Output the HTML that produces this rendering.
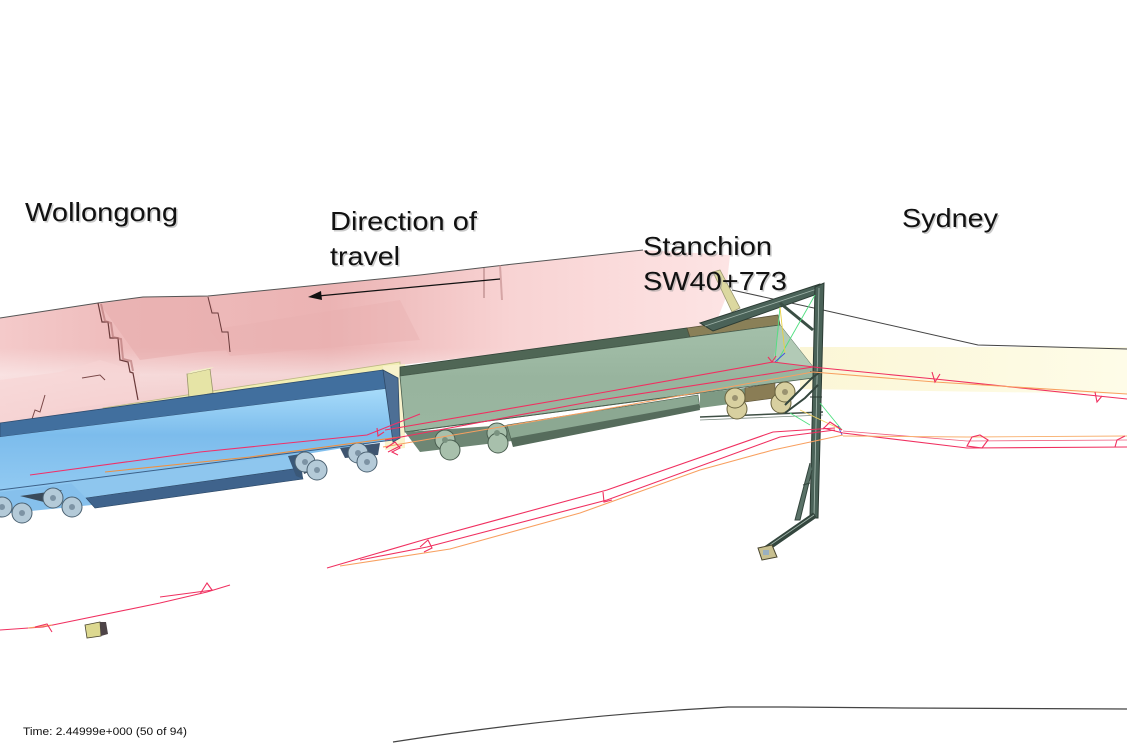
<!DOCTYPE html>
<html><head><meta charset="utf-8"><style>
html,body{margin:0;padding:0;background:#fff;}
svg{display:block;}
text{font-family:"Liberation Sans",Arial,sans-serif;}
</style></head><body>
<svg width="1127" height="743" viewBox="0 0 1127 743" xmlns="http://www.w3.org/2000/svg">
<defs>
<linearGradient id="pinkG" x1="0" y1="0" x2="1" y2="0">
<stop offset="0" stop-color="#f4caca"/><stop offset="0.15" stop-color="#efbdbd"/>
<stop offset="0.45" stop-color="#ebb3b3"/><stop offset="0.7" stop-color="#f8d3d3"/>
<stop offset="1" stop-color="#fde4e4"/></linearGradient>
<linearGradient id="pinkV" x1="0" y1="0" x2="0" y2="1">
<stop offset="0" stop-color="#fff" stop-opacity="0"/><stop offset="0.55" stop-color="#fff" stop-opacity="0"/>
<stop offset="0.7" stop-color="#fff" stop-opacity="0.45"/><stop offset="1" stop-color="#fff" stop-opacity="0.15"/></linearGradient>
<linearGradient id="blueG" x1="0" y1="0" x2="0" y2="1">
<stop offset="0" stop-color="#a8dcfa"/><stop offset="0.45" stop-color="#7cbcec"/><stop offset="1" stop-color="#92caf2"/></linearGradient>
<linearGradient id="greenG" x1="0" y1="0" x2="0" y2="1">
<stop offset="0" stop-color="#a4c0aa"/><stop offset="0.5" stop-color="#98b49e"/><stop offset="1" stop-color="#9ab6a0"/></linearGradient>
<linearGradient id="bandG" x1="0" y1="0" x2="1" y2="0">
<stop offset="0" stop-color="#fbf6d6"/><stop offset="1" stop-color="#fefce8"/></linearGradient>
</defs>

<!-- pale yellow band (Sydney side) -->
<polygon points="800,347 1127,347 1127,394 800,389" fill="url(#bandG)"/>
<!-- thin black line -->
<polyline points="732,290 823,310 978,345 1127,349" fill="none" stroke="#444" stroke-width="1"/>

<!-- pink structure -->
<polygon points="0,318 98,303 143,297 208,296 420,275 505,265 643,250 730,255 725,300 713,330 400,365 103,408 0,428" fill="url(#pinkG)"/>
<polygon points="0,318 98,303 143,297 208,296 420,275 505,265 643,250 730,255 725,300 713,330 400,365 103,408 0,428" fill="url(#pinkV)"/>
<polygon points="100,304 143,297 208,296 230,350 200,352 140,360" fill="#e6aaaa" opacity="0.5"/>
<polygon points="0,380 60,372 100,360 140,372 135,400 60,410 0,420" fill="#f7d4d4" opacity="0.6"/>
<polygon points="210,330 400,300 420,340 230,356" fill="#e9b0b0" opacity="0.4"/>
<polyline points="0,318 98,303 143,297 208,296 420,275 505,265 643,250" fill="none" stroke="#555" stroke-width="1"/>
<polyline points="98,303 102,322 108,322 110,338 118,338 120,360 128,362 130,372 133,373 138,400" fill="none" stroke="#6a3a3a" stroke-width="1.2"/>
<polyline points="101,304 105,321 111,323 113,337 121,339 123,359 131,361 133,371" fill="none" stroke="#b07070" stroke-width="2" opacity="0.6"/>
<polyline points="208,297 212,313 218,313 222,332 228,332 230,352" fill="none" stroke="#6a3a3a" stroke-width="1"/>
<line x1="500" y1="265" x2="502" y2="300" stroke="#c08888" stroke-width="2" opacity="0.6"/>
<line x1="484" y1="268" x2="484" y2="298" stroke="#8a5555" stroke-width="1" opacity="0.7"/>
<polyline points="30,425 35,410 40,412 45,395" fill="none" stroke="#7a4848" stroke-width="1"/>
<polyline points="82,378 100,375 105,380" fill="none" stroke="#7a4848" stroke-width="1"/>

<!-- yellow post -->
<polygon points="713,272 720,270 740,308 732,312" fill="#dcd8a0" stroke="#9a9670" stroke-width="0.8"/>

<!-- yellow platform strip and block -->
<polygon points="103,408 400,362 400,372 103,418" fill="#f2eeb4" stroke="#bdb884" stroke-width="0.8"/>
<polygon points="187,374 210,369 213,393 189,398" fill="#e6e4a6" stroke="#99946a" stroke-width="0.8"/>
<polygon points="187,374 192,371 214,367 210,369" fill="#f3f1c6"/>
<!-- gap between trains -->
<polygon points="383,366 405,364 405,448 385,450" fill="#f8f2cc"/>

<!-- BLUE TRAIN -->
<polygon points="0,486 75,478 92,505 0,514" fill="#86c0ec"/>
<polygon points="0,423 383,370 392,388 0,437" fill="#416f9e" stroke="#2e4d70" stroke-width="0.8"/>
<polygon points="0,437 392,388 393,440 300,455 0,492" fill="url(#blueG)"/>
<line x1="0" y1="490" x2="393" y2="440" stroke="#3d6188" stroke-width="1"/>
<polygon points="70,482 300,454 300,468 86,498" fill="#8ec6ee"/>
<polygon points="86,498 300,468 303,479 95,508" fill="#3f638c" stroke="#2c4866" stroke-width="0.6"/>
<polygon points="288,456 300,454 303,479 296,476" fill="#3a5878"/>
<polygon points="383,370 398,378 400,438 393,442" fill="#4d6f95" stroke="#2f4a68" stroke-width="0.8"/>
<polygon points="20,496 62,490 48,503" fill="#3a4a5a"/>
<polygon points="300,456 312,454 314,470 304,474" fill="#3a4a5a"/>
<polygon points="340,448 380,443 378,455 345,458" fill="#3f5570"/>

<!-- GREEN TRAIN -->
<polygon points="400,367 687,328 690,337 400,376" fill="#4f6655" stroke="#34463a" stroke-width="0.8"/>
<polygon points="687,328 778,315 780,325 690,337" fill="#8a8058" stroke="#5a5238" stroke-width="0.8"/>
<polygon points="400,376 780,325 813,367 813,378 700,393 405,432" fill="url(#greenG)" stroke="#4a5e4e" stroke-width="0.8"/>
<polygon points="780,325 813,367 773,362" fill="#b2cab6"/>
<line x1="405" y1="432" x2="700" y2="393" stroke="#4a5e4e" stroke-width="1"/>
<polygon points="405,432 507,425 512,441 420,452" fill="#6e8674"/>
<polygon points="507,425 698,395 700,408 513,446" fill="#8ca892" stroke="#4a5e4e" stroke-width="0.6"/>
<polygon points="511,438 699,404 700,410 513,447" fill="#566c5c"/>
<polygon points="700,393 745,388 745,402 700,408" fill="#7e9a84"/>
<polygon points="745,388 775,383 775,398 745,402" fill="#8a7d55" stroke="#5a5238" stroke-width="0.6"/>
<line x1="700" y1="417" x2="823" y2="412" stroke="#3e4e44" stroke-width="1.5"/>
<line x1="700" y1="420" x2="823" y2="415" stroke="#7a8a80" stroke-width="0.8"/>

<!-- wheels -->
<g stroke="#4c6272" stroke-width="1" fill="#b4cad8">
<circle cx="2" cy="507" r="10"/><circle cx="22" cy="513" r="10"/>
<circle cx="53" cy="498" r="10"/><circle cx="72" cy="507" r="10"/>
<circle cx="305" cy="462" r="10"/><circle cx="317" cy="470" r="10"/>
<circle cx="358" cy="453" r="10"/><circle cx="367" cy="462" r="10"/>
</g>
<g fill="#7d93a4">
<circle cx="2" cy="507" r="3"/><circle cx="22" cy="513" r="3"/><circle cx="53" cy="498" r="3"/><circle cx="72" cy="507" r="3"/>
<circle cx="305" cy="462" r="3"/><circle cx="317" cy="470" r="3"/><circle cx="358" cy="453" r="3"/><circle cx="367" cy="462" r="3"/>
</g>
<g stroke="#4a5e50" stroke-width="1" fill="#a8c0ac">
<circle cx="445" cy="440" r="10"/><circle cx="450" cy="450" r="10"/>
<circle cx="497" cy="433" r="10"/><circle cx="498" cy="443" r="10"/>
</g>
<g fill="#7a9280"><circle cx="445" cy="440" r="3"/><circle cx="497" cy="433" r="3"/></g>
<g stroke="#6a6440" stroke-width="1" fill="#d8d0a0">
<circle cx="737" cy="409" r="10"/><circle cx="735" cy="398" r="10"/>
<circle cx="781" cy="403" r="10"/><circle cx="785" cy="392" r="10"/>
</g>
<g fill="#9a9270"><circle cx="735" cy="398" r="3"/><circle cx="785" cy="392" r="3"/></g>

<!-- STANCHION -->
<g>
<polygon points="700,323 820,284 823,292 713,331" fill="#4a6258" stroke="#2c3c34" stroke-width="1"/>
<line x1="705" y1="326" x2="820" y2="288" stroke="#a0b4aa" stroke-width="0.8"/>
<line x1="780" y1="303" x2="813" y2="330" stroke="#3a4e44" stroke-width="3"/>
<polygon points="815,287 824,283 818,518 810,518" fill="#4a6258" stroke="#2c3c34" stroke-width="1"/>
<line x1="819" y1="288" x2="814" y2="516" stroke="#a8bcb2" stroke-width="0.8"/>
<line x1="815" y1="515" x2="763" y2="551" stroke="#34463e" stroke-width="6"/>
<line x1="814" y1="515" x2="763" y2="550" stroke="#a0b4aa" stroke-width="0.8"/>
<polyline points="810,463 795,520 800,520 812,470" fill="#5a7268" stroke="#34463e" stroke-width="1"/>
<line x1="803" y1="485" x2="810" y2="483" stroke="#34463e" stroke-width="1"/>
<polygon points="758,548 772,545 777,557 762,560" fill="#c8c090" stroke="#4a4630" stroke-width="1"/>
<rect x="763" y="550" width="6" height="5" fill="#9ab0c0"/>
<polyline points="785,405 800,390 812,378 820,372" fill="none" stroke="#34463e" stroke-width="2"/>
<polyline points="785,413 805,398 818,385" fill="none" stroke="#34463e" stroke-width="2"/>
<line x1="810" y1="372" x2="822" y2="372" stroke="#2c3c34" stroke-width="1"/>
<line x1="810" y1="397" x2="822" y2="397" stroke="#2c3c34" stroke-width="1"/>
</g>
<!-- wires near stanchion -->
<g fill="none" stroke-width="0.9">
<polyline points="780,307 775,360" stroke="#50e080"/>
<polyline points="815,295 777,362" stroke="#50e080"/>
<polyline points="780,307 785,353" stroke="#e8d040"/>
<polyline points="775,362 785,353" stroke="#4050e0"/>
<polyline points="790,413 810,425" stroke="#50e080"/>
<polyline points="820,403 842,430" stroke="#50e080"/>
<polyline points="800,410 842,430" stroke="#f0d060"/>
<polyline points="838,426 842,435" stroke="#4050e0"/>
</g>

<!-- trajectory lines -->
<g fill="none" stroke-width="1.1">
<polyline points="30,475 200,452 367,435 420,414" stroke="#f03068"/>
<polyline points="105,472 250,457 400,437" stroke="#f09040"/>
<polyline points="385,430 600,393 773,362 822,368 935,379 1127,399" stroke="#f03060"/>
<polyline points="385,440 600,400 813,367" stroke="#f03060"/>
<polyline points="383,447 600,410 813,372 935,382 1127,394" stroke="#f8a060" stroke-width="1"/>
<polyline points="823,428 843,433 967,448 1127,447" stroke="#f03060"/>
<polyline points="843,431 967,441 1127,440" stroke="#f06080" stroke-width="0.8"/>
<polyline points="843,436 967,437 1127,436" stroke="#f8b070" stroke-width="0.9"/>
<polyline points="327,568 423,540 607,490 773,432 835,428" stroke="#f03060"/>
<polyline points="360,560 427,547 607,500 780,437 835,430" stroke="#f03060"/>
<polyline points="340,566 450,549 580,513 700,470 773,450 843,435" stroke="#f8a060"/>
<polyline points="0,630 43,627 160,603 207,592 230,585" stroke="#f03060"/>
<polyline points="160,597 213,590" stroke="#f03060"/>
<polyline points="28,628 52,625" stroke="#f8a060"/>
<!-- markers -->
<polyline points="932,372 935,382 940,374" stroke="#f03060"/>
<polyline points="1095,392 1097,402 1102,396" stroke="#f03060"/>
<polygon points="967,446 972,437 980,435 988,440 982,448" stroke="#f03060"/>
<polyline points="1115,447 1117,440 1125,436" stroke="#f03060"/>
<polyline points="823,429 830,422 842,430" stroke="#f03060"/>
<polyline points="768,357 772,362 776,356" stroke="#f03060"/>
<polyline points="377,428 378,436 384,432" stroke="#f03060"/>
<polyline points="420,547 428,540 432,548 424,552" stroke="#f03060"/>
<polyline points="603,492 604,502 612,500" stroke="#f03060"/>
<polyline points="200,594 207,583 212,590" stroke="#f03060"/>
<polyline points="35,627 47,624 52,632" stroke="#f03060"/>
<polyline points="386,448 395,442 400,448 392,452 398,455" stroke="#f03060"/>
<polyline points="388,452 402,445" stroke="#f03060"/>
</g>

<!-- small yellow box bottom left -->
<polygon points="85,625 100,622 101,636 87,638" fill="#dcd890" stroke="#4a4630" stroke-width="0.8"/>
<polygon points="100,622 106,622 108,634 101,636" fill="#4e4448"/>

<!-- direction arrow -->
<line x1="500" y1="279" x2="318" y2="296" stroke="#111" stroke-width="1.2"/>
<polygon points="308,297 321,291 322,300" fill="#111"/>

<!-- bottom curve -->
<path d="M393,742 Q560,716 728,707 L785,707 L902,708 L1127,709" fill="none" stroke="#444" stroke-width="1.2"/>

<!-- labels -->
<g font-size="26" fill="#999" opacity="0.5">
<text x="26.5" y="222.5" textLength="153" lengthAdjust="spacingAndGlyphs">Wollongong</text>
<text x="331.5" y="231.5" textLength="147" lengthAdjust="spacingAndGlyphs">Direction of</text>
<text x="331.5" y="266.5" textLength="70" lengthAdjust="spacingAndGlyphs">travel</text>
<text x="644.5" y="256.5" textLength="129" lengthAdjust="spacingAndGlyphs">Stanchion</text>
<text x="644.5" y="291.5" textLength="144" lengthAdjust="spacingAndGlyphs">SW40+773</text>
<text x="903.5" y="228.5" textLength="96" lengthAdjust="spacingAndGlyphs">Sydney</text>
</g>
<g font-size="26" fill="#111">
<text x="25" y="221" textLength="153" lengthAdjust="spacingAndGlyphs">Wollongong</text>
<text x="330" y="230" textLength="147" lengthAdjust="spacingAndGlyphs">Direction of</text>
<text x="330" y="265" textLength="70" lengthAdjust="spacingAndGlyphs">travel</text>
<text x="643" y="255" textLength="129" lengthAdjust="spacingAndGlyphs">Stanchion</text>
<text x="643" y="290" textLength="144" lengthAdjust="spacingAndGlyphs">SW40+773</text>
<text x="902" y="227" textLength="96" lengthAdjust="spacingAndGlyphs">Sydney</text>
</g>
<text x="23" y="735" font-size="11" fill="#111" textLength="164" lengthAdjust="spacingAndGlyphs">Time: 2.44999e+000 (50 of 94)</text>
</svg>
</body></html>
